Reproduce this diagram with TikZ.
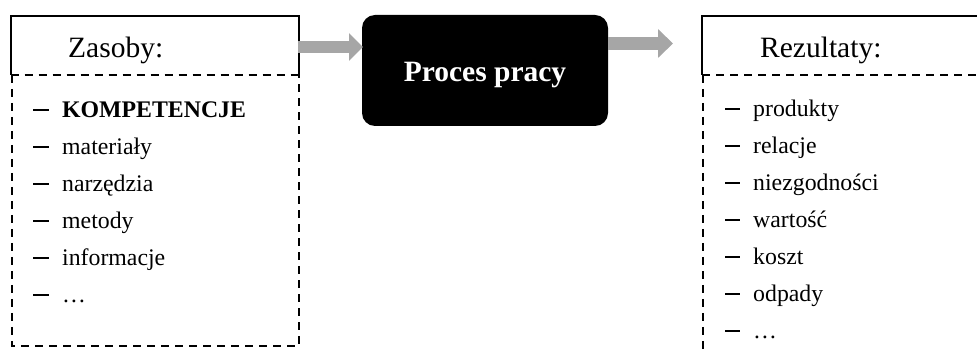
\documentclass[tikz,border=0pt]{standalone}
\usepackage{fontspec}
\setmainfont{Liberation Serif}
\usetikzlibrary{arrows.meta}
\definecolor{arrgrey}{HTML}{A6A6A6}
\tikzset{
  solidline/.style={line width=2pt, draw=black},
  dashline/.style={line width=1.6pt, draw=black, dash pattern=on 8pt off 6pt},
  titletext/.style={inner sep=0pt, anchor=base west, font=\fontsize{29.5}{34}\selectfont},
  itemtext/.style={inner sep=0pt, anchor=base west, font=\fontsize{23.8}{28}\selectfont},
  dashmark/.style={line width=1.3pt, draw=black},
  procbox/.style={fill=black, rounded corners=13pt, minimum width=246pt, minimum height=111pt, inner sep=0pt,
    text height=26.5pt, text depth=3.5pt,
    text=white, font=\bfseries\fontsize{29.5}{34}\selectfont}
}
\begin{document}
\begin{tikzpicture}[x=1pt,y=-1pt]
\useasboundingbox (0,0) rectangle (977,352);
% left box
\draw[solidline] (10.5,75) -- (10.5,16) -- (299,16) -- (299,75);
\draw[dashline] (10.5,75) -- (299,75);
\draw[dashline] (12,75) -- (12,346) -- (299,346) -- (299,75);
\node[titletext] (zas) at (68,58) {Zasoby:};
% right box
\draw[solidline] (702,75) -- (702,16) -- (977,16);
\draw[dashline] (702,75) -- (977,75);
\draw[dashline] (703,75) -- (703,352);
\node[titletext] (rez) at (760,58) {Rezultaty:};
% process
\node[procbox] (proc) at (485,70.5) {Proces pracy};
% arrows
\coordinate (la) at (298,47);
\coordinate (lb) at (363,47);
\coordinate (ra) at (608,43.5);
\coordinate (rb) at (673,43.5);
\draw[draw=arrgrey, line width=12pt, -{Triangle[length=14pt,width=27pt,fill=arrgrey]}] (la) -- (lb);
\draw[draw=arrgrey, line width=13pt, -{Triangle[length=15pt,width=28pt,fill=arrgrey]}] (ra) -- (rb);
% left items
\foreach \y/\t/\n in {118/{\textbf{KOMPETENCJE}}/l1, 155/materiały/l2, 192/narzędzia/l3, 229/metody/l4, 266/informacje/l5, 303/…/l6}{
  \node[itemtext] (\n) at (62,\y) {\t};
  \draw[dashmark] (33,\y-8) -- (49,\y-8);
}
% right items
\foreach \y/\t/\n in {117/produkty/r1, 154/relacje/r2, 191/niezgodności/r3, 228/wartość/r4, 265/koszt/r5, 302/odpady/r6, 339/…/r7}{
  \node[itemtext] (\n) at (753,\y) {\t};
  \draw[dashmark] (725,\y-8) -- (740,\y-8);
}
\end{tikzpicture}
\end{document}
